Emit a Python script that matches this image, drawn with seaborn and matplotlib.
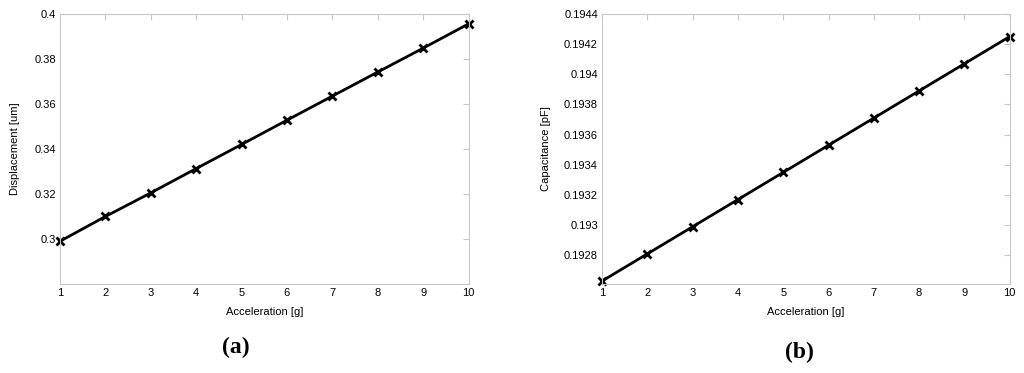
import numpy as np
import pandas as pd
import matplotlib
matplotlib.use("Agg")
import matplotlib.pyplot as plt
import seaborn as sns

accel = [1, 2, 3, 4, 5, 6, 7, 8, 9, 10]
displacement = [0.2990, 0.3100, 0.3205, 0.3313, 0.3420, 0.3528, 0.3635, 0.3742, 0.3848, 0.3956]
capacitance = [0.19263, 0.19281, 0.19299, 0.19317, 0.19335, 0.19353, 0.19371, 0.19389, 0.19407, 0.19425]

disp_ticks = [0.3, 0.32, 0.34, 0.36, 0.38, 0.4]
disp_labels = ["0.3", "0.32", "0.34", "0.36", "0.38", "0.4"]
cap_ticks = [0.1928, 0.193, 0.1932, 0.1934, 0.1936, 0.1938, 0.194, 0.1942, 0.1944]
cap_labels = ["0.1928", "0.193", "0.1932", "0.1934", "0.1936", "0.1938", "0.194", "0.1942", "0.1944"]

sns.set_style("white")
plt.rcParams["font.family"] = ["Liberation Sans", "DejaVu Sans"]
plt.rcParams["text.color"] = "black"
plt.rcParams["axes.labelcolor"] = "black"

df = pd.DataFrame({"Acceleration": accel, "Displacement": displacement,
                   "Capacitance": capacitance})

fig = plt.figure(figsize=(10.24, 3.73), dpi=100)
ax1 = fig.add_axes([0.0586, 0.2386, 0.399, 0.724])
ax2 = fig.add_axes([0.588, 0.2386, 0.398, 0.724])

grey = "#c8c8c8"


def style_axis(ax):
    for s in ax.spines.values():
        s.set_color(grey)
        s.set_linewidth(0.8)
    ax.tick_params(direction="in", length=4, width=0.8, color=grey,
                   labelsize=8, labelcolor="black", top=True, right=True,
                   pad=3)
    ax.set_xlim(1, 10)
    ax.set_xticks(accel)
    ax.set_xlabel("Acceleration [g]", fontsize=8, labelpad=6)
    for ln in ax.lines:
        ln.set_clip_on(False)


sns.lineplot(data=df, x="Acceleration", y="Displacement", color="black",
             marker="x", markersize=5.5, markeredgewidth=2, linewidth=2,
             markeredgecolor="black", ax=ax1)
style_axis(ax1)
ax1.set_ylim(0.28, 0.4)
ax1.set_yticks(disp_ticks)
ax1.set_yticklabels(disp_labels)
ax1.set_ylabel("Displacement [um]", fontsize=8, labelpad=10)

sns.lineplot(data=df, x="Acceleration", y="Capacitance", color="black",
             marker="x", markersize=5.5, markeredgewidth=2, linewidth=2,
             markeredgecolor="black", ax=ax2)
style_axis(ax2)
ax2.set_ylim(0.19261, 0.1944)
ax2.set_yticks(cap_ticks)
ax2.set_yticklabels(cap_labels)
ax2.set_ylabel("Capacitance [pF]", fontsize=8, labelpad=9)

fig.text(0.230, 0.068, "(a)", fontsize=17, fontweight="bold", color="black",
         family=["Liberation Serif", "DejaVu Serif"], ha="center", va="center")
fig.text(0.781, 0.055, "(b)", fontsize=17, fontweight="bold", color="black",
         family=["Liberation Serif", "DejaVu Serif"], ha="center", va="center")

fig.savefig("out.png", dpi=100)
